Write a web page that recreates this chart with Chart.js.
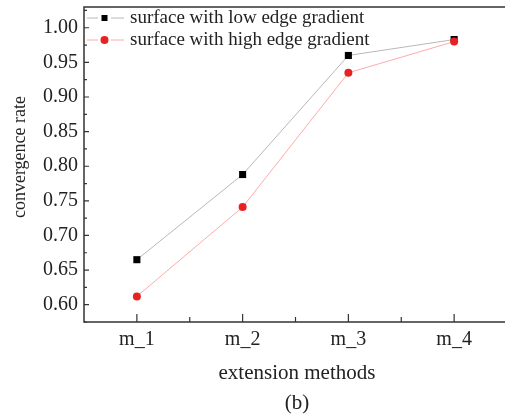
<!DOCTYPE html>
<html>
<head>
<meta charset="utf-8">
<script src="https://cdn.jsdelivr.net/npm/chart.js@4.4.0/dist/chart.umd.min.js"></script>
<style>
  html, body { margin: 0; padding: 0; background: #fff; overflow: hidden; }
  #wrap { position: absolute; left: 0; top: 0; width: 512px; height: 416px; }
</style>
</head>
<body>
<div id="wrap"><canvas id="c" width="512" height="416"></canvas></div>
<script>
const categories = ['m_1', 'm_2', 'm_3', 'm_4'];
const lowEdgeValues = [0.665, 0.788, 0.960, 0.983];
const highEdgeValues = [0.612, 0.741, 0.935, 0.980];
const seriesNames = ['surface with low edge gradient', 'surface with high edge gradient'];
const yTickValues = [0.60, 0.65, 0.70, 0.75, 0.80, 0.85, 0.90, 0.95, 1.00];
const yAxisTitle = 'convergence rate';
const xAxisTitle = 'extension methods';
const captionText = '(b)';

const SERIF = '"Liberation Serif", "Times New Roman", serif';
const TEXT = '#222';
const FRAME = '#333';

const decorPlugin = {
  id: 'decor',
  afterDraw(chart) {
    const ctx = chart.ctx;
    const a = chart.chartArea;
    const xs = chart.scales.x, ys = chart.scales.y;
    ctx.save();
    // frame
    ctx.strokeStyle = FRAME;
    ctx.lineWidth = 1.5;
    ctx.strokeRect(a.left, a.top, a.right - a.left, a.bottom - a.top);
    // y ticks inward
    ctx.lineWidth = 1.2;
    ctx.beginPath();
    for (let i = 0; i < yTickValues.length; i++) {
      const py = ys.getPixelForValue(yTickValues[i]);
      ctx.moveTo(a.left, py); ctx.lineTo(a.left + 5, py);
    }
    for (let i = 0; i <= yTickValues.length; i++) {
      const v = (i === 0 ? yTickValues[0] - 0.025 : yTickValues[i - 1] + 0.025);
      const py = ys.getPixelForValue(v);
      if (py < a.top - 0.5 || py > a.bottom + 0.5) continue;
      ctx.moveTo(a.left, py); ctx.lineTo(a.left + 3, py);
    }
    // x ticks inward
    for (let i = 0; i < categories.length; i++) {
      const px = xs.getPixelForValue(i);
      ctx.moveTo(px, a.bottom); ctx.lineTo(px, a.bottom - 8);
      if (i < categories.length - 1) {
        const mx = (px + xs.getPixelForValue(i + 1)) / 2;
        ctx.moveTo(mx, a.bottom); ctx.lineTo(mx, a.bottom - 5);
      }
    }
    ctx.stroke();

    // legend
    const rows = [
      { y: 18, line: '#b8b8b8', fill: '#000', shape: 'square' },
      { y: 40, line: '#ffaaaa', fill: '#e82222', shape: 'circle' }
    ];
    rows.forEach((r, i) => {
      ctx.strokeStyle = r.line;
      ctx.lineWidth = 1;
      ctx.beginPath();
      ctx.moveTo(87, r.y); ctx.lineTo(98, r.y);
      ctx.moveTo(111, r.y); ctx.lineTo(124, r.y);
      ctx.stroke();
      ctx.fillStyle = r.fill;
      if (r.shape === 'square') {
        ctx.fillRect(101.5, r.y - 3, 6, 6);
      } else {
        ctx.beginPath(); ctx.arc(104.5, r.y, 4, 0, Math.PI * 2); ctx.fill();
      }
      ctx.fillStyle = TEXT;
      ctx.font = '19px ' + SERIF;
      ctx.textAlign = 'left';
      ctx.textBaseline = 'middle';
      ctx.fillText(seriesNames[i], 130, r.y);
    });

    // y title
    ctx.fillStyle = TEXT;
    ctx.font = '18px ' + SERIF;
    ctx.translate(20, 157);
    ctx.rotate(-Math.PI / 2);
    ctx.textAlign = 'center';
    ctx.textBaseline = 'middle';
    ctx.fillText(yAxisTitle, 0, 0);
    ctx.restore();

    ctx.save();
    ctx.fillStyle = TEXT;
    ctx.font = '21px ' + SERIF;
    ctx.textAlign = 'center';
    ctx.textBaseline = 'middle';
    ctx.fillText(xAxisTitle, 297, 373);
    ctx.fillText(captionText, 297, 403);
    ctx.restore();
  }
};

new Chart(document.getElementById('c'), {
  type: 'line',
  data: {
    labels: categories,
    datasets: [
      {
        label: seriesNames[0],
        data: lowEdgeValues,
        order: 2,
        borderColor: '#b8b8b8',
        borderWidth: 1,
        pointStyle: 'rect',
        pointRadius: 5,
        pointBackgroundColor: '#000',
        pointBorderColor: '#000',
        pointBorderWidth: 0,
        tension: 0
      },
      {
        label: seriesNames[1],
        data: highEdgeValues,
        order: 1,
        borderColor: '#ffaaaa',
        borderWidth: 1,
        pointStyle: 'circle',
        pointRadius: 4,
        pointBackgroundColor: '#e82222',
        pointBorderColor: '#e82222',
        pointBorderWidth: 0,
        tension: 0
      }
    ]
  },
  options: {
    responsive: false,
    animation: false,
    layout: { padding: { left: 0, right: 3, top: 7, bottom: 0 } },
    plugins: { legend: { display: false }, tooltip: { enabled: false } },
    scales: {
      x: {
        type: 'category',
        offset: true,
        grid: { display: false, drawTicks: false },
        border: { display: false },
        ticks: { color: TEXT, font: { family: SERIF, size: 20 }, padding: 6, maxRotation: 0 },
        afterFit(s) { s.height = 94; s.paddingLeft = 0; s.paddingRight = 0; }
      },
      y: {
        type: 'linear',
        min: 0.575,
        max: 1.03,
        grid: { display: false, drawTicks: false },
        border: { display: false },
        afterBuildTicks(s) { s.ticks = yTickValues.map(v => ({ value: v })); },
        ticks: {
          color: TEXT,
          font: { family: SERIF, size: 20 },
          padding: 6,
          callback: (v) => Number(v).toFixed(2)
        },
        afterFit(s) { s.width = 84; s.paddingTop = 0; s.paddingBottom = 0; }
      }
    }
  },
  plugins: [decorPlugin]
});
</script>
</body>
</html>
